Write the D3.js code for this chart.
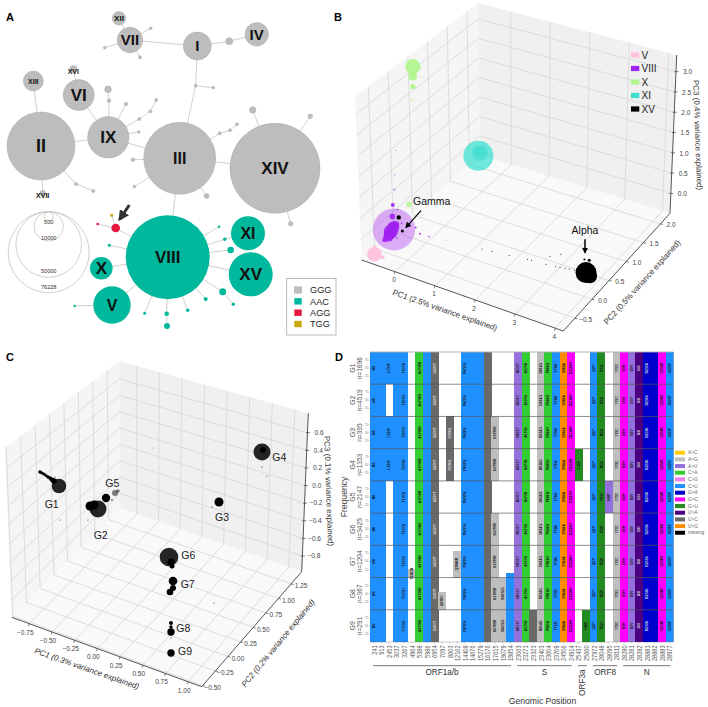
<!DOCTYPE html>
<html><head><meta charset="utf-8">
<style>html,body{margin:0;padding:0;background:#fff}svg{display:block;font-family:"Liberation Sans",Arial,sans-serif}</style>
<script src="https://cdn.jsdelivr.net/npm/d3@7"></script></head><body><svg id="c" width="708" height="707"></svg>
<script>
// ---------- Panel A: haplotype network ----------
const hapAlleles = ["GGG","AAC","AGG","TGG"];
const hapColors = ["#bdbdbd","#00b89c","#e8173f","#c9a80a"];
const sizeLegend = [500,10000,50000,76228];
// id, layoutX, layoutY, genomes, allele
const namedNodes = [
["I",19.73,4.6,9100,"GGG"],["IV",25.67,3.43,6360,"GGG"],["VII",13,4,7500,"GGG"],["XII",11.9,1.83,2090,"GGG"],
["II",4.1,14.6,53700,"GGG"],["XIII",3.33,8.1,4650,"GGG"],["VI",7.87,9.5,11160,"GGG"],["XVI",7.33,6.9,570,"GGG"],
["IX",10.83,13.73,19900,"GGG"],["III",17.97,15.83,60200,"GGG"],["XIV",27.5,16.83,94100,"GGG"],["XVII",4.27,19.33,364,"GGG"],
["VIII",16.77,25.73,82000,"AAC"],["XI",24.8,23.33,13400,"AAC"],["XV",25.07,27.43,22500,"AAC"],["X",10.13,26.83,5930,"AAC"],["V",11.2,30.5,16250,"AAC"]];
const leafNodes = [
["a1",19.57,8.57,110,"GGG"],["a2",21.33,8.77,85,"GGG"],["b1",22.93,4.13,570,"GGG"],["v1",15.07,2.83,85,"GGG"],["v2",10.47,4.77,85,"GGG"],["v3",14,5.73,120,"GGG"],
["c1",7.6,18.4,110,"GGG"],["c2",9.33,19.1,120,"GGG"],["x1",10.8,8.93,505,"GGG"],["x2",10.9,10.07,150,"GGG"],["x3",12.6,10.4,134,"GGG"],["x4",13.93,11.9,110,"GGG"],
["x5",15.03,11.13,110,"GGG"],["x6",15.63,10,110,"GGG"],["x7",13.87,13.2,85,"GGG"],["t1",21.97,13.33,110,"GGG"],["t2",23,13.03,100,"GGG"],["t3",23.7,12.43,100,"GGG"],
["t4",13.3,15.97,150,"GGG"],["t5",13.43,18.67,85,"GGG"],["t6",20.67,19.6,290,"GGG"],["f1",25.27,11,476,"GGG"],["f2",31.03,11.63,246,"GGG"],["f3",29.07,22.37,246,"GGG"],
["red",11.57,22.8,860,"AGG"],["redL",9.77,22.4,79,"AGG"],["yel",11.17,21.53,105,"TGG"],
["m1",10.93,24.53,105,"AAC"],["m2",21.9,22.67,67,"AAC"],["m3",22.47,23.93,134,"AAC"],["m4",23.07,25,505,"AAC"],["m5",22.27,29.17,570,"AAC"],["m6",23.33,30.43,134,"AAC"],
["m7",20.57,29.9,186,"AAC"],["m8",18.77,31.03,134,"AAC"],["m9",16.67,31.37,246,"AAC"],["m10",16.7,32.6,418,"AAC"],["m11",14.47,31.33,105,"AAC"],["vL",7.47,30.6,67,"AAC"]];
const edgeList = [["I","a1"],["a1","III"],["a1","a2"],["I","b1"],["b1","IV"],["VII","I"],["VII","XII"],["VII","v1"],["VII","v2"],["VII","v3"],
["II","XIII"],["II","IX"],["II","XVII"],["II","c1"],["c1","c2"],["VI","IX"],["VI","XVI"],["IX","III"],["IX","x2"],["x2","x1"],["IX","x3"],["IX","x4"],["x4","x5"],["x5","x6"],["IX","x7"],
["III","XIV"],["III","VIII"],["III","t1"],["t1","t2"],["t2","t3"],["III","t4"],["III","t5"],["III","t6"],["XIV","f1"],["XIV","f2"],["XIV","f3"],
["VIII","red"],["red","redL"],["red","yel"],["VIII","X"],["VIII","V"],["V","vL"],["VIII","m1"],["VIII","m2"],["VIII","m3"],["m3","XI"],["VIII","m4"],["VIII","XV"],["VIII","m5"],["m5","m6"],["VIII","m7"],["VIII","m8"],["VIII","m9"],["m9","m10"],["VIII","m11"]];
const nodeFontSizes = {I:15,IV:15,VII:15,XII:8,II:18,XIII:7,VI:17,XVI:7,IX:17,III:16,XIV:17,XVII:7,VIII:17,XI:16,XV:17,X:17,V:16};

// ---------- Panel B: PCA of clades (values in the projected view plane) ----------
const cladeNames = ["V","VIII","X","XI","XV"];
const cladeColors = ["#ffc0dc","#a020f0","#b2f58f","#40e0d0","#000000"];
const pcaBTicksPC1 = [0,1,2,3,4];
const pcaBTicksPC2 = [-0.5,0,0.5,1,1.5,2];
const pcaBTicksPC3 = [0,0.5,1,1.5,2,2.5,3];
// projected PC1, projected height, genomes
const cladeV = [[-1.14,-.23,5300],[-.93,-.31,324],[-1.13,-.04,225]];
const cladeVIII = [[-.65,.39,44100],[-.73,.33,4900],[-.67,.44,3600],[-.79,.21,2500],[-.75,.28,3000],[-.62,.5,1600],[-.88,.13,625],[-.69,.71,784],[-.68,1,400],[-.64,1.38,64],[-.63,1.75,36],[-.6,2.36,25],[0,.28,100],[.23,.21,64],[-.11,.44,100],[-.46,.54,64],[-.58,.17,64],[.65,.11,16]];
const cladeX = [[-.18,4.46,5600],[-.18,4.22,2000],[-.18,3.96,730],[-.2,3.63,100],[.03,4.42,36],[.05,4.21,25],[-.28,1.01,625],[-.27,1.31,25],[4.02,.68,25]];
const cladeXI = [[1.46,2.23,22500],[1.5,2.3,6400],[1.49,2.33,2500]];
const cladeXV = [[4.15,-.69,11000],[4.25,-.78,4900],[4.11,-.36,100],[4.23,-.38,225],[-.53,.69,484],[-.44,.35,225],[-.56,.89,25],
[1.55,-.1,25],[1.8,-.16,25],[2.23,-.26,25],[2.69,-.36,25],[2.79,-.38,25],[3.15,-.48,25],[3.25,-.28,25],[3.52,-.23,25],[3.39,-.53,25],[3.5,-.56,25],[3.63,-.58,25],[3.73,-.6,25],[3.86,-.63,25]];

// ---------- Panel C: PCA of clade VIII groups ----------
const pcaCTicksPC1 = [-.75,-.5,-.25,0,.25,.5,.75,1];
const pcaCTicksPC2 = [-.5,-.25,0,.25,.5,.75,1,1.25];
const pcaCTicksPC3 = [-.8,-.6,-.4,-.2,0,.2,.4,.6];
const groupBlobs = [[-.51,.54,5300],[-.7,.68,324],[-.68,.67,256],[-.66,.66,256],[-.64,.645,256],[-.62,.63,289],[-.6,.62,324],[-.59,.61,400],[-.575,.6,500],[-.56,.59,784],[-.55,.63,25],[-.5,.2,25],[-.22,.2,25],
[-.12,.31,7200],[-.2,.34,2025],[-.16,.35,2025],[-.04,.42,1760],[.02,.4,49],[1.09,.38,2025],[1.02,.33,36],[1.52,.88,7200],[1.53,.9,900],[1.52,.73,36],[1.57,.64,25],[.43,.92,16],
[.59,-.17,8650],[.61,-.22,1225],[.62,-.26,625],[.63,-.41,1850],[.63,-.48,900],[.6,-.52,1090],[.61,-.92,1370],[.61,-.83,400],[.61,-.87,289],[.61,-.98,25],[.61,-1.13,1370],[1.04,-.63,25]];
const fadedBlobs = [[.05,.47,900],[.08,.49,324]];
const groupLabels = ["G1","G2","G3","G4","G5","G6","G7","G8","G9"];
const groupLabelAt = [[-.583,.358],[-.093,.05],[1.12,.223],[1.693,.827],[.023,.567],[.783,-.15],[.777,-.443],[.733,-.883],[.75,-1.117]];

// ---------- Panel D: mutation frequency per group ----------
const groupSizes = [1696,4519,395,1353,2147,3425,1204,367,291];
const positions = [241,913,2453,3037,3267,4964,5388,5986,6954,7097,8603,12162,14408,14676,15279,16176,17615,19079,19854,23063,23271,23323,23403,23604,23709,24506,24914,25437,25660,27972,28048,28095,28111,28280,28281,28282,28881,28882,28883,28977];
const mutTypes = ["C>U","C>U","C>U","C>U","C>U","A>G","C>A","C>U","U>C","A>G","U>C","A>G","C>U","C>U","C>U","U>C","A>G","A>G","C>U","A>U","C>A","U>C","A>G","C>A","C>U","U>G","G>C","G>U","G>U","C>U","G>U","A>U","A>G","G>C","A>U","U>A","G>A","G>A","G>C","C>U"];
const mutLabels = ["NS","","L730F","","T1001I","T1567A","A1708D","","I2230T","I2278V","F2780L","Q3966R","P4720L","","","","K5799R","S6272G","","N501Y","A570D","","D614G","P681H","T716I","S982A","D1118H","L15F","V46F","Q27*","R52I","K68*","Y73C","D3H","D3V","D3I","R203K","","G204R","S235F"];
const ALL = [100,100,100,100,100,100,100,100,100];
const freqByColumn = [ALL,ALL,[100,0,100,100,0,0,0,0,0],ALL,ALL,[0,0,0,0,0,0,25,0,0],ALL,ALL,ALL,[0,0,0,0,0,0,0,55,0],[0,0,100,100,0,0,0,0,0],[0,0,0,0,0,0,83,0,0],ALL,ALL,ALL,ALL,
[0,0,100,100,0,100,100,100,100],[0,0,0,0,0,0,0,100,100],[0,0,0,0,0,0,15,100,100],ALL,ALL,[0,0,0,0,0,0,0,0,100],ALL,ALL,ALL,ALL,ALL,[0,0,0,100,0,0,0,0,0],[0,0,0,0,0,0,0,0,100],ALL,ALL,[0,0,0,0,100,0,0,0,0],ALL,ALL,ALL,ALL,ALL,ALL,ALL,ALL];
const typeNames = ["A>C","A>G","A>U","C>A","C>G","C>U","G>A","G>C","G>U","U>A","U>C","U>G","missing"];
const typeColors = ["#ffcc00","#bebebe","#9370db","#32cd32","#ee82ee","#1e90ff","#0000cd","#ff00ff","#228b22","#4b0082","#696969","#ff8c00","#000000"];
const genes = [["ORF1a/b",241,19854],["S",23063,24914],["ORF3a",25437,25660],["ORF8",27972,28111],["N",28280,28977]];
const freqTicks = [25,50,75];

const svg = d3.select("#c");
const defs = svg.append("defs");
function marker(id,col,w){defs.append("marker").attr("id",id).attr("viewBox","0 0 10 10").attr("refX",8).attr("refY",5).attr("markerWidth",w).attr("markerHeight",w).attr("orient","auto").attr("markerUnits","userSpaceOnUse").append("path").attr("d","M0,0L10,5L0,10Z").attr("fill",col);}
marker("ah","#333",11);marker("ak","#000",6);
[["A",6,21],["B",334,21],["C",6,361],["D",335,361]].forEach(d=>svg.append("text").text(d[0]).attr("x",d[1]).attr("y",d[2]).attr("font-size",11).attr("font-weight","bold"));

// ---------- A ----------
(function(){
 const g=svg.append("g");
 const lx=d3.scaleLinear([0,34],[0,340]), ly=d3.scaleLinear([0,34],[0,340]);
 const r=d3.scaleSqrt([0,76228],[0,40.5]);
 const col=d3.scaleOrdinal(hapAlleles,hapColors);
 const all=namedNodes.concat(leafNodes);
 const byId=new Map(all.map(d=>[d[0],d]));
 g.selectAll("line.e").data(edgeList).join("line").attr("x1",d=>lx(byId.get(d[0])[1])).attr("y1",d=>ly(byId.get(d[0])[2])).attr("x2",d=>lx(byId.get(d[1])[1])).attr("y2",d=>ly(byId.get(d[1])[2])).attr("stroke","#bcbcbc").attr("stroke-width",.7);
 g.selectAll("circle.n").data(all).join("circle").attr("cx",d=>lx(d[1])).attr("cy",d=>ly(d[2])).attr("r",d=>r(d[3])).attr("fill",d=>col(d[4])).attr("stroke",d=>d[4]=="GGG"?"#a6a6a6":"none").attr("stroke-width",.5);
 g.selectAll("text.n").data(namedNodes).join("text").text(d=>d[0]).attr("x",d=>lx(d[1])).attr("y",d=>ly(d[2])+((d[0]=="XVI"||d[0]=="XVII")?2:0)).attr("dy",".36em").attr("text-anchor","middle").attr("font-weight","bold").attr("font-size",d=>nodeFontSizes[d[0]]).attr("fill","#111");
 // size legend
 const topY=211.7,cx=48.7;
 const labelDy=[3,-1.5,-4,-3.5];
 sizeLegend.forEach((n,i)=>{
  const R=n==500?4.5:r(n);
  g.append("circle").attr("cx",cx).attr("cy",topY+R).attr("r",R).attr("fill","none").attr("stroke","#c4c4c4").attr("stroke-width",.8);
  g.append("text").text(n).attr("x",cx).attr("y",topY+2*R+labelDy[i]).attr("text-anchor","middle").attr("font-size",5.6).attr("fill","#333");
 });
 // allele legend
 g.append("rect").attr("x",286.7).attr("y",278.5).attr("width",49.3).attr("height",56.5).attr("fill","#fff").attr("stroke","#aaa").attr("stroke-width",.8);
 hapAlleles.forEach((a,i)=>{
  const y=290+i*11.35;
  g.append("rect").attr("x",294.3).attr("y",y-3.2).attr("width",7.4).attr("height",6.4).attr("fill",hapColors[i]).attr("stroke",i==0?"#aaa":"none").attr("stroke-width",.4);
  g.append("text").text(a).attr("x",310).attr("y",y).attr("dy",".36em").attr("font-size",9.2).attr("fill","#222");
 });
 g.append("line").attr("x1",129.3).attr("y1",205).attr("x2",119.6).attr("y2",219.5).attr("stroke","#333").attr("stroke-width",3).attr("marker-end","url(#ah)");
})();

// ---------- 3D box helper ----------
function box3d(c,xd,yd,zd){
 const xs=d3.scaleLinear(xd,[0,1]),ys=d3.scaleLinear(yd,[0,1]),zs=d3.scaleLinear(zd,[0,1]);
 const bil=(A,B,C,D,u,v,i)=>(1-v)*((1-u)*A[i]+u*B[i])+v*((1-u)*D[i]+u*C[i]);
 const p=(x,y,z)=>{const u=xs(x),v=ys(y),w=zs(z);
  const f=[0,1].map(i=>bil(c.L,c.F,c.R,c.K,u,v,i)),t=[0,1].map(i=>bil(c.TL,c.TF,c.TR,c.TK,u,v,i));
  return [f[0]+(t[0]-f[0])*w,f[1]+(t[1]-f[1])*w];};
 p.xd=xd;p.yd=yd;p.zd=zd;return p;
}
function drawBox(p,tx,ty,tz,fx,fy,o){
 const g=svg.append("g");
 const [x0,x1]=p.xd,[y0,y1]=p.yd,[z0,z1]=p.zd;
 const poly=(pts,f)=>g.append("polygon").attr("points",pts.map(a=>a.join(",")).join(" ")).attr("fill",f);
 poly([p(x0,y0,z0),p(x0,y1,z0),p(x0,y1,z1),p(x0,y0,z1)],"#f5f5f5");
 poly([p(x0,y1,z0),p(x1,y1,z0),p(x1,y1,z1),p(x0,y1,z1)],"#f0f0f0");
 poly([p(x0,y0,z0),p(x1,y0,z0),p(x1,y1,z0),p(x0,y1,z0)],"#f9f9f9");
 const ln=(a,b,s,w)=>g.append("line").attr("x1",a[0]).attr("y1",a[1]).attr("x2",b[0]).attr("y2",b[1]).attr("stroke",s||"#d9d9d9").attr("stroke-width",w||.9);
 tx.forEach(t=>{ln(p(t,y0,z0),p(t,y1,z0));ln(p(t,y1,z0),p(t,y1,z1));});
 ty.forEach(t=>{ln(p(x1,t,z0),p(x0,t,z0));ln(p(x0,t,z0),p(x0,t,z1));});
 tz.forEach(t=>{ln(p(x0,y0,t),p(x0,y1,t));ln(p(x0,y1,t),p(x1,y1,t));});
 ln(p(x0,y0,z0),p(x1,y0,z0),"#555",1);ln(p(x1,y0,z0),p(x1,y1,z0),"#555",1);ln(p(x1,y1,z0),p(x1,y1,z1),"#555",1);
 const lab=(s,q,dx,dy)=>g.append("text").text(s).attr("x",q[0]+dx).attr("y",q[1]+dy).attr("dy",".36em").attr("text-anchor","middle").attr("font-size",6.5).attr("fill","#444");
 tx.forEach(t=>{const q=p(t,y0,z0);ln(q,[q[0]-.8,q[1]+2.5],"#444",.7);lab(fx(t),q,o.x[0],o.x[1]);});
 ty.forEach(t=>{const q=p(x1,t,z0);ln(q,[q[0]+2.5,q[1]+.6],"#444",.7);lab(fy(t),q,o.y[0],o.y[1]);});
 tz.forEach(t=>{const q=p(x1,y1,t);ln([q[0]-1.5,q[1]],[q[0]+2.5,q[1]],"#444",.7);lab(o.fz(t),q,o.z[0],o.z[1]);});
 o.t.forEach(d=>g.append("text").text(d[0]).attr("transform",`translate(${d[1]},${d[2]}) rotate(${d[3]})`).attr("text-anchor","middle").attr("dy",".36em").attr("font-size",8).attr("fill","#333").attr("font-style",d[4]?"italic":null));
}
const blobR=d3.scaleSqrt([0,10000],[0,10]);

// ---------- B ----------
(function(){
 const p=box3d({L:[361.7,260],F:[563.3,331],R:[670,213.3],K:[480,155],TL:[355,97],TF:[563,165],TR:[676.7,55],TK:[478,3]},[-.83,4.2],[-.84,2.28],[-.49,3.41]);
 const f=d3.format(".1f");
 drawBox(p,pcaBTicksPC1,pcaBTicksPC2,pcaBTicksPC3,d3.format("d"),f,{x:[-1,8.3],y:[10.7,1],z:[11.5,.5],fz:f,t:[
  ["PC1 (2.5% variance explained)",445,310,19.3],["PC2 (0.5% variance explained)",642,282,-48],["PC3 (0.4% variance explained)",698,135,88]]});
 const vx=d3.scaleLinear([0,1],[420,460]),vy=d3.scaleLinear([0,1],[245,205]);
 const g=svg.append("g");
 const draw=(data,color,alpha)=>g.selectAll(null).data(data).join("circle").attr("cx",d=>vx(d[0])).attr("cy",d=>vy(d[1])).attr("r",d=>blobR(d[2])).attr("fill",color).attr("fill-opacity",alpha);
 draw(cladeX,cladeColors[2],.95);
 draw(cladeXI.slice(0,1),cladeColors[3],.75);draw(cladeXI.slice(1),cladeColors[3],.6);
 draw(cladeV,cladeColors[0],.95);
 draw(cladeVIII.slice(0,1),cladeColors[1],.35);draw(cladeVIII.slice(1),cladeColors[1],.9);
 draw(cladeXV,cladeColors[4],1);
 cladeNames.forEach((n,i)=>{const y=55+i*13.5;
  g.append("rect").attr("x",631).attr("y",y-2.6).attr("width",8.3).attr("height",5.2).attr("fill",cladeColors[i]);
  g.append("text").text(n).attr("x",641.5).attr("y",y).attr("dy",".36em").attr("font-size",10).attr("fill","#222");});
 g.append("text").text("Gamma").attr("x",431.7).attr("y",201.7).attr("dy",".36em").attr("text-anchor","middle").attr("font-size",10.5).attr("fill","#111");
 g.append("line").attr("x1",421).attr("y1",210.7).attr("x2",406).attr("y2",227.3).attr("stroke","#000").attr("stroke-width",1.2).attr("marker-end","url(#ak)");
 g.append("text").text("Alpha").attr("x",585).attr("y",230.7).attr("dy",".36em").attr("text-anchor","middle").attr("font-size",10.5).attr("fill","#111");
 g.append("line").attr("x1",585).attr("y1",239.3).attr("x2",585).attr("y2",252.5).attr("stroke","#000").attr("stroke-width",1.5).attr("marker-end","url(#ak)");
})();

// ---------- C ----------
(function(){
 const p=box3d({L:[11.7,617.3],F:[201.7,686.7],R:[301.7,571.7],K:[120,508],TL:[5,448],TF:[200,520],TR:[308.3,413.3],TK:[119.3,361]},[-.944,1.149],[-.52,1.46],[-.978,.82]);
 const f2=d3.format(".2f"),f1=d3.format(".1f");
 drawBox(p,pcaCTicksPC1,pcaCTicksPC2,pcaCTicksPC3,f2,f2,{x:[-4,8.5],y:[10,2],z:[11.5,0],fz:f1,t:[
  ["PC1 (0.3% variance explained)",87,668.5,19.3,1],["PC2 (0.2% variance explained)",278,643,-50.5,1],["PC3 (0.1% variance explained)",329,491,88]]});
 const vx=d3.scaleLinear([0,1],[110,210]),vy=d3.scaleLinear([0,1],[540,440]);
 const g=svg.append("g");
 g.selectAll(null).data(groupBlobs).join("circle").attr("cx",d=>vx(d[0])).attr("cy",d=>vy(d[1])).attr("r",d=>blobR(d[2])).attr("fill","#000").attr("fill-opacity",d=>d[2]>5000?.85:1);
 g.selectAll(null).data(fadedBlobs).join("circle").attr("cx",d=>vx(d[0])).attr("cy",d=>vy(d[1])).attr("r",d=>blobR(d[2])).attr("fill","#000").attr("fill-opacity",.5);
 g.selectAll(null).data(groupLabels).join("text").text(d=>d).attr("x",(d,i)=>vx(groupLabelAt[i][0])).attr("y",(d,i)=>vy(groupLabelAt[i][1])).attr("dy",".36em").attr("text-anchor","middle").attr("font-size",10.5).attr("fill","#222");
})();

// ---------- D ----------
(function(){
 const g=svg.append("g");
 const x=d3.scaleBand(positions.map(String),[370,673.3]);
 const y=d3.scaleBand(groupLabels,[352,642]);
 const h=d3.scaleLinear([0,100],[y.bandwidth(),0]);
 const col=d3.scaleOrdinal(typeNames,typeColors);
 const dark=new Set(["U>C","U>A","G>A"]);
 groupLabels.forEach((gr,i)=>{
  const row=g.append("g").attr("transform",`translate(0,${y(gr)})`);
  const data=positions.map((p,k)=>({p,type:mutTypes[k],lab:mutLabels[k],f:freqByColumn[k][i]})).filter(d=>d.f>0);
  row.selectAll("rect").data(data).join("rect").attr("x",d=>x(String(d.p))).attr("y",d=>h(d.f)).attr("width",x.bandwidth()+.35).attr("height",d=>h(0)-h(d.f)).attr("fill",d=>col(d.type)).attr("shape-rendering","crispEdges");
  row.selectAll("text.m").data(data.filter(d=>d.lab)).join("text").attr("class","m").text(d=>d.lab)
   .attr("transform",d=>`translate(${x(String(d.p))+x.bandwidth()/2},${h(d.f/2)}) rotate(-90)`).attr("text-anchor","middle").attr("dy",".36em").attr("font-size",3.4).attr("font-weight","bold").attr("fill",d=>dark.has(d.type)?"#ddd":"#111");
  freqTicks.forEach(t=>{row.append("line").attr("x1",368.5).attr("x2",370).attr("y1",h(t)).attr("y2",h(t)).attr("stroke","#888").attr("stroke-width",.4);
   row.append("text").text(t).attr("x",368).attr("y",h(t)).attr("dy",".36em").attr("text-anchor","end").attr("font-size",2.8).attr("fill","#777");});
  row.append("text").text(gr).attr("transform",`translate(352.7,${y.bandwidth()/2}) rotate(-90)`).attr("text-anchor","middle").attr("dy",".36em").attr("font-size",7).attr("fill","#555");
  row.append("text").text("n="+groupSizes[i]).attr("transform",`translate(359.5,${y.bandwidth()/2}) rotate(-90)`).attr("text-anchor","middle").attr("dy",".36em").attr("font-size",6.6).attr("fill","#555");
 });
 groupLabels.concat(["end"]).forEach((gr,i)=>{const yy=gr=="end"?642:y(gr);
  g.append("line").attr("x1",370).attr("x2",673.3).attr("y1",yy).attr("y2",yy).attr("stroke",i==0?"#aaa":"#555").attr("stroke-opacity",i==0?1:.75).attr("stroke-width",i==9?.4:.9);});
 g.append("line").attr("x1",673.5).attr("x2",673.5).attr("y1",352).attr("y2",642).attr("stroke","#aaa").attr("stroke-width",.6);
 const ax=g.append("g").attr("transform","translate(0,642)").call(d3.axisBottom(x).tickSize(1.5));
 ax.select(".domain").remove();
 ax.selectAll("line").attr("stroke","#888").attr("stroke-width",.4);
 ax.selectAll("text").attr("transform","translate(0,3.5) rotate(-90) scale(.8,1.15)").attr("x",0).attr("y",0).attr("dy",".36em").attr("text-anchor","end").attr("font-size",7).attr("font-family","'Liberation Sans'").attr("fill","#555");
 genes.forEach(d=>{const a=x(String(d[1]))+3,b=x(String(d[2]))+x.bandwidth()-3;
  g.append("line").attr("x1",a).attr("x2",b).attr("y1",665.7).attr("y2",665.7).attr("stroke","#777").attr("stroke-width",1);
  const t=g.append("text").text(d[0]).attr("font-size",8.2).attr("fill","#333").attr("text-anchor","middle").attr("dy",".36em");
  if(d[0]=="ORF3a") t.attr("transform",`translate(${(a+b)/2},682.7) rotate(-90)`);
  else t.attr("x",(a+b)/2).attr("y",672);
 });
 g.append("text").text("Genomic Position").attr("x",542.5).attr("y",701).attr("dy",".36em").attr("text-anchor","middle").attr("font-size",8.6).attr("fill","#333");
 g.append("text").text("Frequency").attr("transform","translate(344,497) rotate(-90)").attr("dy",".36em").attr("text-anchor","middle").attr("font-size",8.6).attr("fill","#444");
 typeNames.forEach((n,i)=>{const yy=452.7+i*6.67;
  g.append("rect").attr("x",675).attr("y",yy-2).attr("width",10).attr("height",4).attr("fill",typeColors[i]);
  g.append("text").text(n).attr("x",688).attr("y",yy).attr("dy",".36em").attr("font-size",4.8).attr("fill","#666");});
})();
</script></body></html>
